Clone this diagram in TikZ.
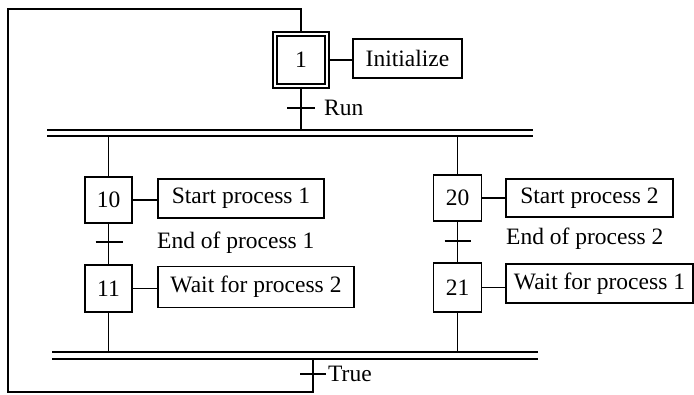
\documentclass[tikz,border=0pt]{standalone}
\usepackage{fontspec}
\setmainfont{Liberation Serif}
\begin{document}
\begin{tikzpicture}[x=1pt,y=-1pt,
  every node/.style={font=\fontsize{23.5}{28}\selectfont},
  wire/.style={line width=1.7pt},
  bar/.style={line width=1.5pt},
  stepbox/.style={draw,line width=1.8pt,inner sep=0pt},
  initstep/.style={draw,line width=1.5pt,double,double distance=2.2pt,inner sep=0pt,minimum size=52pt},
  action/.style={draw,line width=1.3pt,inner sep=0pt},
  cond/.style={anchor=west,inner sep=0pt}]
\useasboundingbox (0,0) rectangle (694,394);

% initial step and its action
\node[initstep] (s1) at (301,60) {1};
\node[action,minimum width=109pt,minimum height=39pt] (a1) at (407.5,58.5) {Initialize};
\draw[wire] (s1.east) -- (s1.east -| a1.west);

% transition "Run"
\coordinate (t1) at (301,108);
\node[cond] (c1) at (324,108) {Run};

% divergence (parallel) bars
\coordinate (dA) at (47,130);  \coordinate (dB) at (533,130);
\coordinate (dC) at (47,136);  \coordinate (dD) at (533,136);
\draw[bar] (dA) -- (dB);
\draw[bar] (dC) -- (dD);

% left branch
\node[stepbox,minimum width=47pt,minimum height=46pt] (s10) at (108.5,200) {10};
\node[action,minimum width=166pt,minimum height=39pt] (a10) at (241,198.5) {Start process 1};
\coordinate (t10) at (108.5,242);
\node[cond] (c10) at (157,243) {End of process 1};
\node[stepbox,minimum width=47pt,minimum height=47pt] (s11) at (108.5,288.5) {11};
\node[action,minimum width=196pt,minimum height=41pt] (a11) at (256,287) {Wait for process 2};

% right branch
\node[stepbox,minimum width=48pt,minimum height=46pt] (s20) at (457.5,198) {20};
\node[action,minimum width=167pt,minimum height=38pt] (a20) at (589.5,198) {Start process 2};
\coordinate (t20) at (457.5,241);
\node[cond] (c20) at (506,239) {End of process 2};
\node[stepbox,minimum width=48pt,minimum height=49pt] (s21) at (457.5,287.5) {21};
\node[action,minimum width=187pt,minimum height=39pt] (a21) at (599.5,283.5) {Wait for process 1};

% convergence (synchronisation) bars
\coordinate (gA) at (52,352);  \coordinate (gB) at (538,352);
\coordinate (gC) at (52,359);  \coordinate (gD) at (538,359);
\draw[bar] (gA) -- (gB);
\draw[bar] (gC) -- (gD);

% transition "True" and loop back
\coordinate (tT) at (313,374);
\node[cond] (cT) at (328,374) {True};
\coordinate (lp1) at (313,392);
\coordinate (lp2) at (8,392);
\coordinate (lp3) at (8,9);
\coordinate (lp4) at (301,9);

% links
\draw[wire] (s1.south) -- (s1.south |- dA);
\draw[wire] (s10.north |- dC) -- (s10.north);
\draw[wire] (s20.north |- dC) -- (s20.north);
\draw[wire] (s10.south) -- (s11.north);
\draw[wire] (s20.south) -- (s21.north);
\draw[wire] (s11.south) -- (s11.south |- gA);
\draw[wire] (s21.south) -- (s21.south |- gA);
\draw[wire] (s10.east) -- (s10.east -| a10.west);
\draw[wire] (s11.east) -- (s11.east -| a11.west);
\draw[wire] (s20.east) -- (s20.east -| a20.west);
\draw[wire] (s21.east) -- (s21.east -| a21.west);
\draw[wire,line join=miter] (lp1 |- gC) -- (lp1) -- (lp2) -- (lp3) -- (lp4) -- (s1.north);

% transition bars
\draw[wire] ([xshift=-14pt]t1) -- ([xshift=14pt]t1);
\draw[wire] ([xshift=-13pt]t10) -- ([xshift=14pt]t10);
\draw[wire] ([xshift=-13pt]t20) -- ([xshift=13pt]t20);
\draw[wire] ([xshift=-13pt]tT) -- ([xshift=13pt]tT);
\end{tikzpicture}
\end{document}
